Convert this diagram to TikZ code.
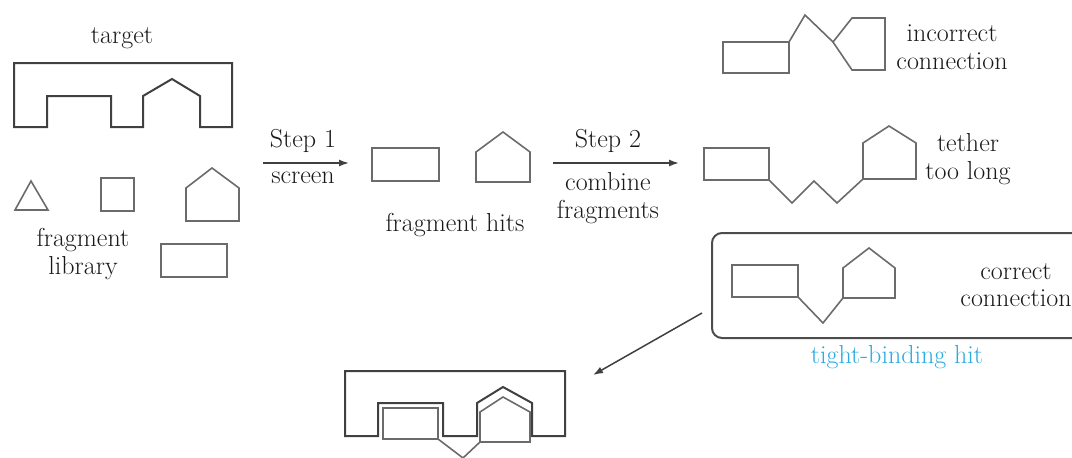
\documentclass[tikz,border=0pt]{standalone}
\usetikzlibrary{arrows.meta}
\definecolor{tbblue}{RGB}{41,171,226}
\begin{document}
\begin{tikzpicture}[x=1pt,y=-1pt,
  tgt/.style={draw=black!75, line width=2pt, line join=miter},
  frag/.style={draw=black!58, line width=1.6pt, line join=miter},
  lbl/.style={font=\fontsize{26}{27.5}\selectfont, align=center, text=black!90, inner sep=0pt},
  arr/.style={draw=black!75, line width=1.5pt, -{Latex[length=10pt,width=7pt]}},
  box/.style={draw=black!70, line width=2pt, rounded corners=10pt}]
\useasboundingbox (0,0) rectangle (1072,458);
% ---------- target ----------
\node[lbl] (ttarget) at (122,38) {target};
\draw[tgt] (14,127) -- (47,127) -- (47,96) -- (111,96) -- (111,127) -- (143,127) -- (143,96)
  -- (172,79) -- (200,96) -- (200,127) -- (232,127) -- (232,63) -- (14,63) -- cycle;
% ---------- fragment library ----------
\draw[frag] (15,210) -- (31,181) -- (48,210) -- cycle;
\draw[frag] (101,178) rectangle (134,211);
\draw[frag] (186,221) -- (186,188) -- (212,168) -- (239,188) -- (239,221) -- cycle;
\draw[frag] (161,244) rectangle (227,277);
\node[lbl] (tlib) at (83,254) {fragment\\library};
% ---------- step 1 ----------
\coordinate (s1a) at (263,163);
\coordinate (s1b) at (349,163);
\draw[arr] (s1a) -- (s1b);
\node[lbl] (tstep1) at (303,141) {Step 1};
\node[lbl] (tscreen) at (303,178) {screen};
% ---------- fragment hits ----------
\draw[frag] (372,148) rectangle (439,181);
\draw[frag] (476,182) -- (476,152) -- (503,132) -- (530,152) -- (530,182) -- cycle;
\node[lbl] (thits) at (455,225) {fragment hits};
% ---------- step 2 ----------
\coordinate (s2a) at (553,163);
\coordinate (s2b) at (679,163);
\draw[arr] (s2a) -- (s2b);
\node[lbl] (tstep2) at (608,141) {Step 2};
\node[lbl] (tcomb) at (608,198) {combine\\fragments};
% ---------- incorrect connection ----------
\draw[frag] (723,42) rectangle (789,73);
\draw[frag] (789,42) -- (805,15) -- (833,42);
\draw[frag] (833,42) -- (852,18) -- (885,18) -- (885,70) -- (852,70) -- cycle;
\node[lbl] (tinc) at (952,47) {incorrect\\connection};
% ---------- tether too long ----------
\draw[frag] (704,148) rectangle (769,180);
\draw[frag] (769,180) -- (792,203) -- (814,181) -- (837,203) -- (863,179);
\draw[frag] (863,179) -- (863,143) -- (889,126) -- (916,143) -- (916,179) -- cycle;
\node[lbl] (tteth) at (968,159) {tether\\too long};
% ---------- correct connection ----------
\draw[box] (712,233) rectangle (1090,338);
\draw[frag] (732,265) rectangle (798,297);
\draw[frag] (798,297) -- (823,323) -- (843,298);
\draw[frag] (843,298) -- (843,268) -- (869,248) -- (895,268) -- (895,298) -- cycle;
\node[lbl] (tcorr) at (1016,285) {correct\\connection};
\node[lbl, text=tbblue] (ttight) at (897,357) {tight-binding hit};
% ---------- arrow to complex ----------
\coordinate (s3a) at (702,313);
\coordinate (s3b) at (593,375);
\draw[arr] (s3a) -- (s3b);
% ---------- bound complex ----------
\draw[tgt] (345,436) -- (378,436) -- (378,403) -- (443,403) -- (443,436) -- (477,436) -- (477,403)
  -- (503,387) -- (532,403) -- (532,436) -- (565,436) -- (565,371) -- (345,371) -- cycle;
\draw[frag] (383,408) rectangle (438,439);
\draw[frag] (438,439) -- (463,458) -- (480,442);
\draw[frag] (480,442) -- (480,412) -- (503,397) -- (530,412) -- (530,442) -- cycle;
\end{tikzpicture}
\end{document}
